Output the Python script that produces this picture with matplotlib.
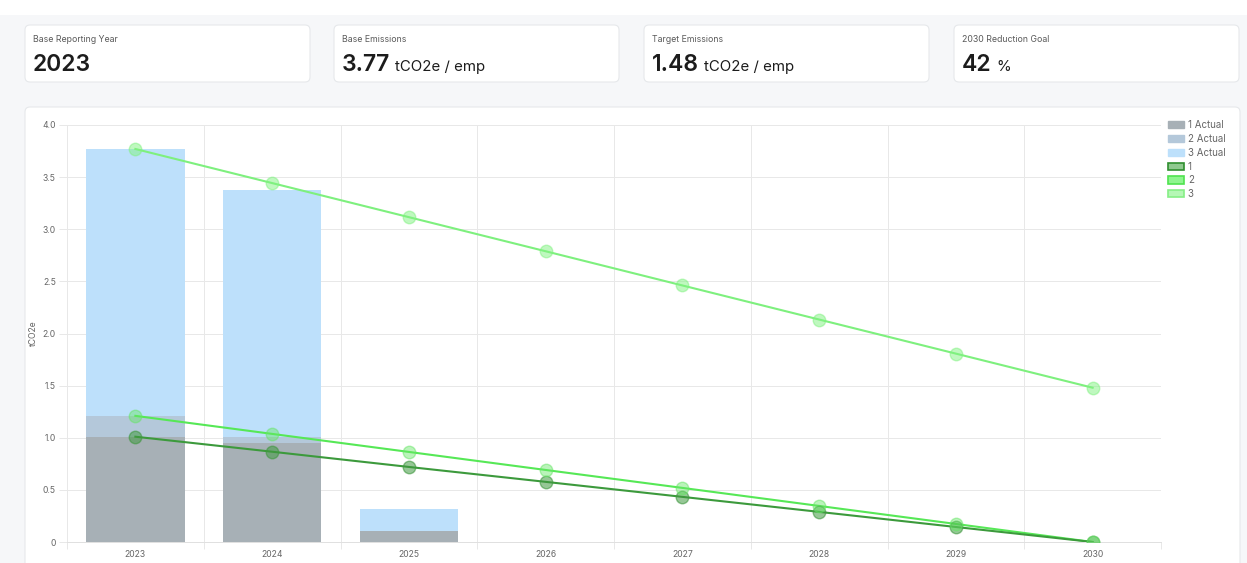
import matplotlib
matplotlib.use("Agg")
import matplotlib.pyplot as plt
from matplotlib.patches import FancyBboxPatch, Patch
from matplotlib.ticker import FuncFormatter

plt.rcParams["font.family"] = ["Inter", "DejaVu Sans"]

# data
years = ["2023", "2024", "2025", "2026", "2027", "2028", "2029", "2030"]
actual_1 = [1.01, 0.95, 0.11]
actual_2 = [1.21, 1.01, 0.11]
actual_3 = [3.77, 3.38, 0.32]
target_1 = [1.01, 0.866, 0.72, 0.577, 0.433, 0.289, 0.144, 0.0]
target_2 = [1.21, 1.037, 0.864, 0.691, 0.519, 0.346, 0.173, 0.0]
target_3 = [3.77, 3.443, 3.116, 2.789, 2.461, 2.134, 1.807, 1.48]

card_titles = ["Base Reporting Year", "Base Emissions", "Target Emissions", "2030 Reduction Goal"]
card_values = ["2023", "3.77", "1.48", "42"]
card_units = ["", "tCO2e / emp", "tCO2e / emp", "%"]

W, H = 1247, 563
fig = plt.figure(figsize=(W / 100, H / 100), dpi=100)
fig.patch.set_facecolor("#f6f7f9")

# background layer in pixel coordinates
bg = fig.add_axes([0, 0, 1, 1])
bg.set_xlim(0, W)
bg.set_ylim(H, 0)
bg.axis("off")
bg.add_patch(plt.Rectangle((0, 0), W, 15, color="white", lw=0))

card_x = [25, 334, 644, 954]
for i, x0 in enumerate(card_x):
    bg.add_patch(FancyBboxPatch((x0, 25), 285, 57, boxstyle="round,pad=0,rounding_size=5",
                                fc="white", ec="#e6e8eb", lw=0.8))
    bg.text(x0 + 8, 42, card_titles[i], fontsize=6.3, color="#5a5a5a", va="baseline")
    t = bg.text(x0 + 8, 71, card_values[i], fontsize=16.5, fontweight="semibold",
                color="#1c1c1c", va="baseline")
    if card_units[i]:
        fig.canvas.draw()
        ext = t.get_window_extent()
        bg.text(ext.x1 + 5, 71, card_units[i], fontsize=10.8, color="#1c1c1c", va="baseline")

bg.add_patch(FancyBboxPatch((25, 107), 1215, 480, boxstyle="round,pad=0,rounding_size=5",
                            fc="white", ec="#e6e8eb", lw=0.8))

# chart
ax = fig.add_axes([67 / W, 1 - 542 / H, (1161 - 67) / W, (542 - 125) / H])
ax.set_facecolor("none")
xs = list(range(len(years)))

bw = 0.72
ax.bar(xs[:len(actual_3)], actual_3, width=bw, color="#bde0fb", zorder=2, label="3 Actual")
ax.bar(xs[:len(actual_2)], actual_2, width=bw, color="#b4c8da", zorder=2, label="2 Actual")
ax.bar(xs[:len(actual_1)], actual_1, width=bw, color="#a7b0b6", zorder=2, label="1 Actual")

ax.plot(xs, target_1, color="#3c9a3c", lw=1.5, zorder=4)
ax.plot(xs, target_1, "o", ms=9, mfc=(0.25, 0.6, 0.25, 0.55), mec=(0.25, 0.6, 0.25, 0.6), zorder=5)
ax.plot(xs, target_2, color="#56e856", lw=1.5, zorder=3)
ax.plot(xs, target_2, "o", ms=9, mfc=(0.4, 0.9, 0.4, 0.45), mec=(0.4, 0.9, 0.4, 0.5), zorder=5)
ax.plot(xs, target_3, color="#7ef07e", lw=1.5, zorder=3)
ax.plot(xs, target_3, "o", ms=9, mfc=(0.5, 0.95, 0.5, 0.5), mec=(0.5, 0.95, 0.5, 0.5), zorder=5)

ax.set_xlim(-0.5, len(years) - 0.5)
ax.set_ylim(0, 4)
ax.set_xticks(xs)
ax.set_xticklabels(years)
ax.set_xticks([x - 0.5 for x in range(len(years) + 1)], minor=True)
ax.set_yticks([0, 0.5, 1.0, 1.5, 2.0, 2.5, 3.0, 3.5, 4.0])
ax.yaxis.set_major_formatter(FuncFormatter(lambda v, p: "0" if v == 0 else f"{v:.1f}"))
ax.grid(True, axis="y", color="#e8e8e8", lw=0.7, zorder=0)
ax.grid(True, axis="x", which="minor", color="#e8e8e8", lw=0.7, zorder=0)
ax.tick_params(axis="x", which="major", length=0, labelsize=6.2, labelcolor="#666666", pad=6)
ax.tick_params(axis="x", which="minor", length=5, color="#e8e8e8", width=0.7)
ax.tick_params(axis="y", length=6, color="#e8e8e8", width=0.7, labelsize=6.2, labelcolor="#666666", pad=2)
for s in ["top", "right"]:
    ax.spines[s].set_visible(False)
ax.spines["left"].set_color("#e8e8e8")
ax.spines["bottom"].set_color("#e0e0e0")
ax.spines["left"].set_linewidth(0.7)
ax.spines["bottom"].set_linewidth(0.7)
ax.set_ylabel("tCO2e", fontsize=6.2, color="#666666", labelpad=3)

handles = [
    Patch(fc="#a7b0b6", ec="#a7b0b6", label="1 Actual"),
    Patch(fc="#b4c8da", ec="#b4c8da", label="2 Actual"),
    Patch(fc="#bde0fb", ec="#bde0fb", label="3 Actual"),
    Patch(fc="#8fc98f", ec="#2f8f2f", lw=1.2, label="1"),
    Patch(fc="#8ef58e", ec="#4fe34f", lw=1.2, label="2"),
    Patch(fc="#b5f7b5", ec="#86ef86", lw=1.2, label="3"),
]
fig.legend(handles=handles, loc="upper left", bbox_to_anchor=(1163 / W, 1 - 115 / H),
           frameon=False, fontsize=7, handlelength=1.65, handleheight=0.75,
           labelspacing=0.4, handletextpad=0.4, borderpad=0, labelcolor="#666666")

fig.savefig("out.png", dpi=100, facecolor=fig.get_facecolor())
